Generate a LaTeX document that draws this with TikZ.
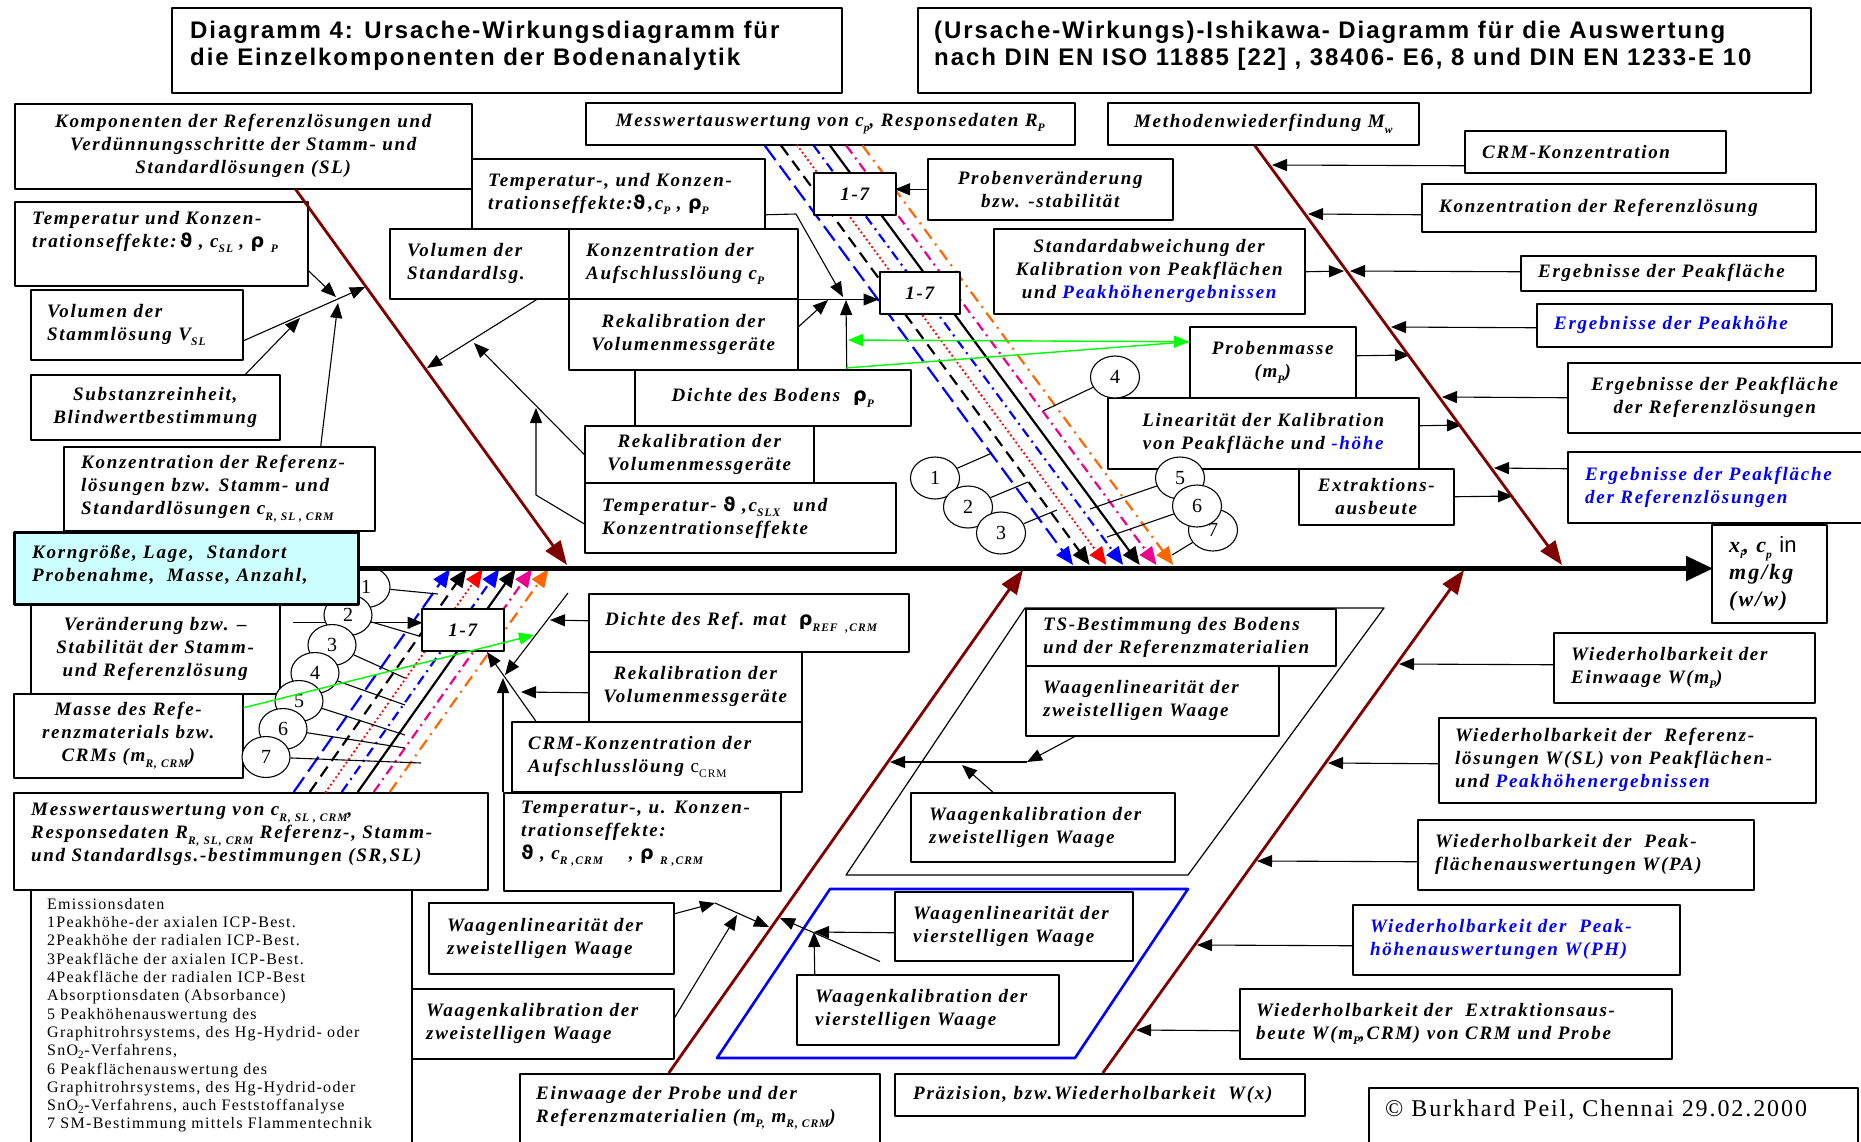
\documentclass[tikz,border=0pt]{standalone}
\usepackage{fontspec}
\setmainfont{Liberation Serif}
\newfontfamily\lbl{Liberation Serif}[LetterSpace=9]
\newfontfamily\ttl{Liberation Sans}[LetterSpace=8]
\newfontfamily\emi{Liberation Serif}[LetterSpace=8]
\newfontfamily\cpy{Liberation Serif}[LetterSpace=8]
\newfontfamily\grk{DejaVu Sans}
\newfontfamily\ari{Liberation Sans}
\usetikzlibrary{arrows.meta,positioning,shapes.geometric}

\definecolor{bonered}{RGB}{128,0,0}
\definecolor{lgreen}{RGB}{0,255,0}
\definecolor{lcyan}{RGB}{204,255,255}
\definecolor{lorange}{RGB}{255,102,0}

\newcommand\bxfont{\lbl\bfseries\itshape\fontsize{19}{23}\selectfont}
\newcommand\resfont{\lbl\bfseries\itshape\fontsize{22}{27}\selectfont}
\newcommand\ttlfont{\ttl\bfseries\fontsize{24}{27}\selectfont}
\newcommand\emfont{\emi\fontsize{16}{18.3}\selectfont}
\newcommand\numfont{\rmfamily\fontsize{20}{20}\selectfont}
\newcommand\sbs[1]{\raisebox{-0.28em}{\fontsize{11.5}{11.5}\selectfont#1}}
\newcommand\gth{{\grk\bfseries\upshape\symbol{"03D1}}}
\newcommand\grho{{\grk\bfseries\upshape\symbol{"03C1}}}
\newcommand\bl[1]{\textcolor{blue}{#1}}

\tikzset{
  box/.style={draw, line width=1.5pt, fill=white, inner sep=0pt, anchor=north west, align=center, font=\bxfont},
  sz/.style 2 args={minimum width=#1pt, minimum height=#2pt},
  keybox/.style={line width=3pt, fill=lcyan},
  txt/.style={inner sep=0pt, align=left, font=\bxfont},
  ttxt/.style={inner sep=0pt, align=left, font=\ttlfont},
  emtxt/.style={inner sep=0pt, align=left, font=\emfont},
  num/.style={draw, ellipse, fill=white, line width=1.1pt, inner sep=0pt, minimum width=49pt, minimum height=42pt, font=\numfont},
  arr/.style={line width=1.1pt, -{Triangle[length=15pt,width=12pt]}},
  garr/.style={draw=lgreen, line width=1.4pt, -{Triangle[length=15pt,width=12pt]}},
  gline/.style={draw=lgreen, line width=1.4pt},
  bone/.style={draw=bonered, line width=2.8pt, -{Triangle[length=24pt,width=18pt]}},
  spine/.style={line width=5pt, -{Triangle[length=27pt,width=24pt]}},
  cline/.style={line width=2.2pt, -{Triangle[length=18pt,width=15pt]}},
  cl0/.style={blue, dash pattern=on 18pt off 7pt},
  cl1/.style={black, dash pattern=on 12pt off 7pt},
  cl2/.style={red, line width=2.6pt, line cap=round, dash pattern=on 0pt off 4.5pt},
  cl3/.style={blue, dash pattern=on 10pt off 5pt on 2pt off 5pt},
  cl4/.style={black},
  cl5/.style={magenta, dash pattern=on 10pt off 5pt on 2pt off 5pt},
  cl6/.style={lorange, dash pattern=on 12pt off 6pt on 2pt off 6pt}
}

\begin{document}
\begin{tikzpicture}[line join=round, x=1pt, y=-1pt]
\useasboundingbox (0,0) rectangle (1861,1141);
\clip (0,0) rectangle (1861,1141);
\path (567,565) coordinate (B1) (1562,565) coordinate (B2)
  (1023,570) coordinate (B3) (1464,570) coordinate (B4)
  (336,297) coordinate (k1) (365,287) coordinate (k2) (300,318) coordinate (k3)
  (338,303) coordinate (k4) (427,368) coordinate (k5) (474,343) coordinate (k6)
  (536,495) coordinate (k7a) (536,408) coordinate (k7)
  (796,214) coordinate (m2a) (843,297) coordinate (m2) (828,300) coordinate (m3)
  (846,300) coordinate (m4) (848,340) coordinate (g1) (846,368) coordinate (g2)
  (1272,165) coordinate (r1) (1308,214) coordinate (r2) (1350,271) coordinate (r3)
  (1344,271) coordinate (r4) (1391,327) coordinate (r5) (1410,355) coordinate (r6)
  (1442,397) coordinate (r7) (1462,425) coordinate (r8) (1494,468) coordinate (r9)
  (1513,496) coordinate (r10)
  (1399,664) coordinate (s1) (1328,763) coordinate (s2) (1257,861) coordinate (s3)
  (1197,945) coordinate (s4) (1136,1030) coordinate (s5)
  (1027,762) coordinate (w1) (890,762) coordinate (w2) (962,765) coordinate (w3)
  (814,932) coordinate (w4) (780,918) coordinate (w6) (715,903) coordinate (w7)
  (769,927) coordinate (w8) (737,915) coordinate (w9)
  (568,593) coordinate (d1a) (505,675) coordinate (d1) (550,620) coordinate (n1)
  (521,692) coordinate (n2) (487,652) coordinate (n4) (534,635) coordinate (gg)
  (992,453) coordinate (e1) (1028,482) coordinate (e2) (1057,510) coordinate (e3)
  (1043,411) coordinate (e4) (1090,509) coordinate (e5) (1107,537) coordinate (e6)
  (1172,555) coordinate (e7)
  (438,594) coordinate (f1) (419,636) coordinate (f2) (405,678) coordinate (f3)
  (405,705) coordinate (f4) (405,735) coordinate (f5) (405,748) coordinate (f6)
  (421,763) coordinate (f7);

% frames round the balance groups
\draw[line width=1.2pt] (1025,608) -- (1384,608) -- (1188,875) -- (846,875) -- cycle;
\draw[blue, line width=2.6pt] (830,889) -- (1188,889) -- (1075,1058) -- (717,1058) -- cycle;

% title boxes
\node[box, sz={670}{85}] (t1) at (171,7) {};
\node[ttxt, anchor=north west] (t1T) at ([xshift=19pt,yshift=-14pt]t1.north west) {Diagramm 4: Ursache-Wirkungsdiagramm für\\die Einzelkomponenten der Bodenanalytik};
\node[box, sz={893}{85}] (t2) at (917,7) {};
\node[ttxt, anchor=north west] (t2T) at ([xshift=17pt,yshift=-14pt]t2.north west) {(Ursache-Wirkungs)-Ishikawa- Diagramm für die Auswertung\\nach DIN EN ISO 11885 [22] , 38406- E6, 8 und DIN EN 1233-E 10};

% the seven signal lines
\node[box, sz={489}{42}] (messp) at (585,102) {Messwertauswertung von c\sbs{p}, Responsedaten R\sbs{P}};
\foreach \i in {0,...,6}{
  \draw[cline, cl\i] (messp.south) ++({-65.5+16.3*\i},0) -- ({1073+16.7*\i},565);
}

% upper left
\node[box, sz={457}{85}] (kompo) at (14,103) {Komponenten der Referenzlösungen und\\Verdünnungsschritte der Stamm- und\\Standardlösungen (SL)};
\node[box, sz={293}{84}] (tempsl) at (14,201) {};
\node[txt, right=18pt of tempsl.west, yshift=11.5pt] (tempslT) {Temperatur und Konzen-\\trationseffekte:\,\gth\ , c\sbs{SL} , \grho\ \sbs{P}};
\node[box, sz={212}{70}] (volsl) at (30,289) {};
\node[txt, right=17pt of volsl.west] (volslT) {Volumen der\\Stammlösung V\sbs{SL}};
\node[box, sz={249}{65}] (subst) at (30,374) {Substanzreinheit,\\Blindwertbestimmung};
\node[box, sz={311}{84}] (konzref) at (63,446) {};
\node[txt, right=18pt of konzref.west] (konzrefT) {Konzentration der Referenz-\\lösungen bzw. Stamm- und\\Standardlösungen c\sbs{R, SL , CRM}};

% upper middle
\node[box, sz={293}{70}] (tempp) at (471,158) {};
\node[txt, right=17pt of tempp.west] (temppT) {Temperatur-, und Konzen-\\trationseffekte:\gth\,,c\sbs{P} , \grho\sbs{P}};
\node[box, sz={179}{70}] (volstd) at (389,228) {};
\node[txt, right=18pt of volstd.west] (volstdT) {Volumen der\\Standardlsg.};
\node[box, sz={229}{70}] (konzauf) at (568,228) {};
\node[txt, right=18pt of konzauf.west] (konzaufT) {Konzentration der\\Aufschlusslöung c\sbs{P}};
\node[box, sz={229}{71}] (rekal1) at (568,298) {Rekalibration der\\Volumenmessgeräte};
\node[box, sz={276}{56}] (dichteb) at (634,369) {Dichte des Bodens~ \grho\sbs{P}};
\node[box, sz={229}{57}] (rekal2) at (584,425) {Rekalibration der\\Volumenmessgeräte};
\node[box, sz={311}{70}] (tempslx) at (584,482) {};
\node[txt, right=18pt of tempslx.west] (tempslxT) {Temperatur- \gth\ ,c\sbs{SLX}~ und\\Konzentrationseffekte};
\node[box, sz={82}{42}] (sevenA) at (813,172) {1-7};
\node[box, sz={80}{42}] (sevenB) at (879,271) {1-7};
\node[box, sz={245}{61}] (probver) at (927,158) {Probenveränderung\\bzw. -stabilität};
\node[box, sz={311}{85}] (stdabw) at (993,228) {Standardabweichung der\\Kalibration von Peakflächen\\und \bl{Peakhöhenergebnissen}};

% upper right
\node[box, sz={311}{42}] (methw) at (1107,102) {Methodenwiederfindung M\sbs{w}};
\node[box, sz={261}{42}] (crmk) at (1464,130) {};
\node[txt, right=18pt of crmk.west] (crmkT) {CRM-Konzentration};
\node[box, sz={394}{48}] (konzrl) at (1421,183) {};
\node[txt, right=18pt of konzrl.west] (konzrlT) {Konzentration der Referenzlösung};
\node[box, sz={295}{35}] (ergpf) at (1520,255) {};
\node[txt, right=18pt of ergpf.west] (ergpfT) {Ergebnisse der Peakfläche};
\node[box, sz={295}{43}] (ergph) at (1536,303) {};
\node[txt, text=blue, right=18pt of ergph.west] (ergphT) {Ergebnisse der Peakhöhe};
\node[box, sz={166}{71}] (probm) at (1189,326) {Probenmasse\\(m\sbs{P})};
\node[box, sz={294}{70}] (ergpfr) at (1567,362) {Ergebnisse der Peakfläche\\der Referenzlösungen};
\node[box, sz={311}{71}] (linkal) at (1107,397) {Linearität der Kalibration\\von Peakfläche und \bl{-höhe}};
\node[box, sz={155}{56}] (extr) at (1298,468) {Extraktions-\\ausbeute};
\node[box, sz={294}{71}] (ergpfr2) at (1567,451) {};
\node[txt, text=blue, right=18pt of ergpfr2.west] (ergpfr2T) {Ergebnisse der Peakfläche\\der Referenzlösungen};
\node[box, sz={115}{98}] (result) at (1711,524) {};
\node[txt, font=\resfont, right=18pt of result.west] (resultT) {x\sbs{i}, c\sbs{p} {\ari\mdseries\upshape in}\\mg/kg\\(w/w)};

% lower left
\node[box, sz={249}{90}] (veraend) at (30,603) {Veränderung bzw. –\\Stabilität der Stamm-\\und Referenzlösung};
\node[box, sz={229}{84}] (masseref) at (13,693) {Masse des Refe-\\renzmaterials bzw.\\CRMs (m\sbs{R, CRM})};
\node[box, sz={474}{97}] (messr) at (13,792) {};
\node[txt, right=18pt of messr.west, yshift=6.5pt] (messrT) {Messwertauswertung von c\sbs{R, SL , CRM},\\Responsedaten R\sbs{R, SL, CRM} Referenz-, Stamm-\\und Standardlsgs.-bestimmungen (SR,SL)};
\node[box, sz={381}{271}] (emis) at (30,889) {};
\node[emtxt, anchor=north west] (emisT) at ([xshift=17pt,yshift=-9pt]emis.north west) {Emissionsdaten\\1Peakhöhe-der axialen ICP-Best.\\2Peakhöhe der radialen ICP-Best.\\3Peakfläche der axialen ICP-Best.\\4Peakfläche der radialen ICP-Best\\Absorptionsdaten (Absorbance)\\5 Peakhöhenauswertung des\\Graphitrohrsystems, des Hg-Hydrid- oder\\SnO\textsubscript{2}-Verfahrens,\\6 Peakflächenauswertung des\\Graphitrohrsystems, des Hg-Hydrid-oder\\SnO\textsubscript{2}-Verfahrens, auch Feststoffanalyse\\7 SM-Bestimmung mittels Flammentechnik};

% lower middle
\node[box, sz={320}{58}] (dichteref) at (588,593) {};
\node[txt, right=17pt of dichteref.west] (dichterefT) {Dichte des Ref. mat~ \grho\sbs{REF~ ,CRM}};
\node[box, sz={213}{70}] (rekal3) at (588,651) {Rekalibration der\\Volumenmessgeräte};
\node[box, sz={290}{70}] (crmauf) at (511,721) {};
\node[txt, right=17pt of crmauf.west] (crmaufT) {CRM-Konzentration der\\Aufschlusslöung {\mdseries\upshape c\sbs{CRM}}};
\node[box, sz={277}{98}] (tempr) at (503,792) {};
\node[txt, right=18pt of tempr.west, yshift=8pt] (temprT) {Temperatur-, u. Konzen-\\trationseffekte:\\\gth\ , c\sbs{R ,CRM}~~~ , \grho\ \sbs{R ,CRM}};
\node[box, sz={245}{71}] (wlin2) at (428,902) {};
\node[txt, right=19pt of wlin2.west] (wlin2T) {Waagenlinearität der\\zweistelligen Waage};
\node[box, sz={262}{70}] (wkal2) at (411,988) {};
\node[txt, right=15pt of wkal2.west] (wkal2T) {Waagenkalibration der\\zweistelligen Waage};
\node[box, sz={360}{90}] (einw) at (519,1073) {};
\node[txt, anchor=north west] (einwT) at ([xshift=17pt,yshift=-13pt]einw.north west) {Einwaage der Probe und der\\Referenzmaterialien (m\sbs{P,} m\sbs{R, CRM})};

% balances
\node[box, sz={310}{57}] (tsb) at (1025,608) {};
\node[txt, right=18pt of tsb.west] (tsbT) {TS-Bestimmung des Bodens\\und der Referenzmaterialien};
\node[box, sz={253}{70}] (wlin1) at (1025,665) {};
\node[txt, right=18pt of wlin1.west] (wlin1T) {Waagenlinearität der\\zweistelligen Waage};
\node[box, sz={264}{69}] (wkal1) at (910,792) {};
\node[txt, right=19pt of wkal1.west] (wkal1T) {Waagenkalibration der\\zweistelligen Waage};
\node[box, sz={238}{69}] (wlin4) at (894,891) {};
\node[txt, right=19pt of wlin4.west] (wlin4T) {Waagenlinearität der\\vierstelligen Waage};
\node[box, sz={262}{70}] (wkal4) at (796,974) {};
\node[txt, right=19pt of wkal4.west] (wkal4T) {Waagenkalibration der\\vierstelligen Waage};
\node[box, sz={410}{42}] (praez) at (894,1073) {};
\node[txt, right=19pt of praez.west] (praezT) {Präzision, bzw.Wiederholbarkeit~ W(x)};

% lower right
\node[box, sz={261}{70}] (wheinw) at (1553,632) {};
\node[txt, right=18pt of wheinw.west] (wheinwT) {Wiederholbarkeit der\\Einwaage W(m\sbs{P})};
\node[box, sz={377}{85}] (whsl) at (1438,717) {};
\node[txt, right=17pt of whsl.west] (whslT) {Wiederholbarkeit der~ Referenz-\\lösungen W(SL) von Peakflächen-\\und \bl{Peakhöhenergebnissen}};
\node[box, sz={336}{70}] (whpa) at (1417,819) {};
\node[txt, right=18pt of whpa.west] (whpaT) {Wiederholbarkeit der~ Peak-\\flächenauswertungen W(PA)};
\node[box, sz={327}{70}] (whph) at (1352,904) {};
\node[txt, text=blue, right=18pt of whph.west] (whphT) {Wiederholbarkeit der~ Peak-\\höhenauswertungen W(PH)};
\node[box, sz={432}{70}] (whextr) at (1239,988) {};
\node[txt, right=17pt of whextr.west] (whextrT) {Wiederholbarkeit der~ Extraktionsaus-\\beute W(m\sbs{P},CRM) von CRM und Probe};
\node[box, sz={489}{70}] (copy) at (1368,1087) {};
\node[txt, font=\cpy\fontsize{24}{27}\selectfont, anchor=north west] (copyT) at ([xshift=17pt,yshift=-13pt]copy.north west) {© Burkhard Peil, Chennai 29.02.2000};

% numbered circles, upper group
\foreach \n/\x/\y in {1/935/478, 2/968/507, 3/1001/533, 4/1115/377, 5/1180/478, 7/1213/530, 6/1197/506}
  \node[num] (u\n) at (\x,\y) {\n};
\foreach \n in {1,...,7}
  \draw[line width=1.1pt] (u\n) -- (e\n);

% lower group
\foreach \i in {0,...,6}{
  \draw[cline, cl\i] (messr.north) ++({43+16*\i},0) -- ({450+16.4*\i},569);
}
\node[box, sz={82}{42}] (sevenC) at (421,608) {1-7};
\draw[arr] (veraend.east) ++(12,-26) -- ++(130,0);
\foreach \n/\x/\y in {1/366/587, 2/348/615, 3/332/645, 4/315/673, 5/299/701, 6/283/729, 7/266/757}
  \node[num, minimum width=48pt, minimum height=41pt] (l\n) at (\x,\y) {\n};
\foreach \n in {1,...,7}
  \draw[line width=1.1pt] (l\n) -- (f\n);
\node[box, keybox, sz={344}{72}] (korn) at (13,531) {};
\node[txt, right=19pt of korn.west, yshift=4pt] (kornT) {Korngröße, Lage,~ Standort\\Probenahme,~ Masse, Anzahl,};

% arrows, upper left
\draw[arr] (tempsl.east) ++(0,27) -- (k1);
\draw[arr] (volsl.east) ++(0,16) -- (k2);
\draw[arr] (subst.north) ++(90.5,0) -- (k3);
\draw[arr] (konzref.north) ++(101.5,0) -- (k4);
\draw[arr] (volstd.south) ++(57.5,0) -- (k5);
\draw[arr] (rekal2.west) -- (k6);
\draw[arr] (tempslx.west) ++(0,6) -- (k7a) -- (k7);
% arrows, upper middle
\draw[arr] (konzauf.south east) -- ++(80,0);
\draw[arr] (tempp.east) ++(0,21) -- (m2a) -- (m2);
\draw[arr] (rekal1.east) ++(0,-7.5) -- (m3);
\draw[arr] (dichteb.north) ++(74,0) -- (m4);
\draw[arr] (probver.west) -- ++(-32,0);
% arrows, upper right
\draw[arr] (crmk.west) ++(0,14) -- (r1);
\draw[arr] (konzrl.west) ++(0,7) -- (r2);
\draw[arr] (ergpf.west) ++(0,-1.5) -- (r3);
\draw[arr] (stdabw.east) ++(0,0.5) -- (r4);
\draw[arr] (ergph.west) ++(0,2.5) -- (r5);
\draw[arr] (probm.east) ++(0,-6.5) -- (r6);
\draw[arr] (ergpfr.west) -- (r7);
\draw[arr] (linkal.east) ++(0,-7.5) -- (r8);
\draw[arr] (ergpfr2.west) ++(0,-18.5) -- (r9);
\draw[arr] (extr.east) -- (r10);
% arrows, lower right
\draw[arr] (wheinw.west) ++(0,-3) -- (s1);
\draw[arr] (whsl.west) ++(0,3.5) -- (s2);
\draw[arr] (whpa.west) ++(0,7) -- (s3);
\draw[arr] (whph.west) ++(0,6) -- (s4);
\draw[arr] (whextr.west) ++(0,7) -- (s5);
% arrows, balances
\draw[arr] (wlin1.south) ++(-77.5,0) -- (w1);
\draw[arr] (w1) -- (w2);
\draw[arr] (wkal1.north) ++(-50,0) -- (w3);
\draw[arr] (wlin4.west) ++(0,6.5) -- (w4);
\draw[arr] (wkal4.north) ++(-113,0) -- (w4);
\draw[arr] (wlin4.south west) ++(-14,0) -- (w6);
\draw[arr] (wlin2.east) ++(0,-24.5) -- (w7);
\draw[arr] (w7) -- (w8);
\draw[arr] (wkal2.east) ++(0,-6) -- (w9);
% arrows, lower left
\draw[arr] (d1a) -- (d1);
\draw[arr] (dichteref.west) ++(0,-2) -- (n1);
\draw[arr] (rekal3.west) ++(0,6) -- (n2);
\draw[arr] (tempr.north west) -- ++(0,-114);
\draw[arr] (crmauf.north) ++(-121,0) -- (n4);

% main bones and spine
\draw[bone] (kompo.south) ++(52.5,0) -- (B1);
\draw[bone] (methw.south) ++(-8.5,0) -- (B2);
\draw[bone] (einw.north) ++(-31,0) -- (B3);
\draw[bone] (praez.north) ++(3,0) -- (B4);
\draw[spine] (korn.east) -- ++(1353,0);

% green links
\draw[garr, {Triangle[length=15pt,width=12pt]}-{Triangle[length=15pt,width=12pt]}] (g1) -- ([yshift=20.5pt]probm.west);
\draw[gline] (g2) -- ([yshift=20.5pt]probm.west);
\draw[garr] (masseref.east) ++(0,-28) -- (gg);
\end{tikzpicture}
\end{document}
